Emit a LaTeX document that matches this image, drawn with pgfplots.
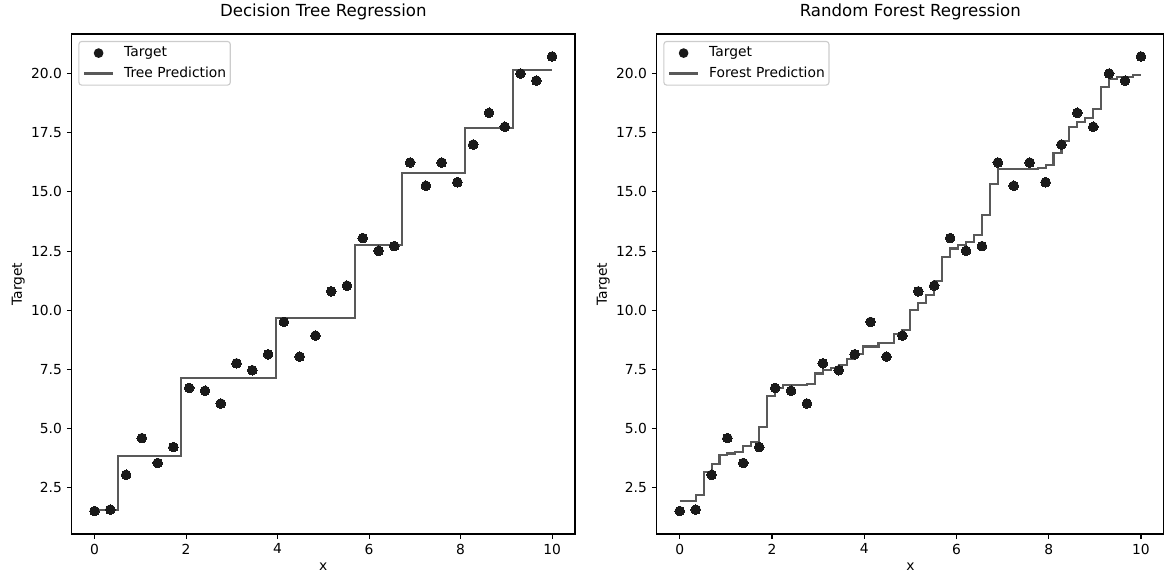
\documentclass[border=0pt]{standalone}
\usepackage{fontspec}
\setmainfont{DejaVu Sans}
\usepackage{pgfplots}
\usepackage{pgfplotstable}
\pgfplotsset{compat=1.18}

\definecolor{pointcol}{HTML}{1A1A1A}
\definecolor{linecol}{HTML}{595959}
\definecolor{framecol}{HTML}{CCCCCC}

% training targets
\pgfplotstableread{
x y
0.000 1.52
0.345 1.58
0.690 3.05
1.034 4.60
1.379 3.55
1.724 4.22
2.069 6.72
2.414 6.60
2.759 6.06
3.103 7.76
3.448 7.47
3.793 8.14
4.138 9.51
4.483 8.04
4.828 8.93
5.172 10.80
5.517 11.04
5.862 13.05
6.207 12.51
6.552 12.71
6.897 16.24
7.241 15.26
7.586 16.24
7.931 15.41
8.276 17.00
8.621 18.34
8.966 17.75
9.310 20.00
9.655 19.70
10.000 20.72
}\targetdata

% single tree: leaf value from each split point on
\pgfplotstableread{
x y
0.000 1.55
0.517 3.86
1.897 7.13
3.966 9.66
5.690 12.76
6.724 15.79
8.103 17.70
9.138 20.14
10.000 20.14
}\treedata

% forest average: value from each split point on
\pgfplotstableread{
x y
0.000 1.94
0.345 2.18
0.517 3.15
0.690 3.51
0.862 3.88
1.034 3.95
1.207 4.02
1.379 4.27
1.552 4.44
1.724 5.06
1.897 6.37
2.069 6.72
2.241 6.84
2.759 6.88
2.931 7.33
3.103 7.47
3.276 7.57
3.448 7.68
3.621 7.95
3.793 8.15
3.966 8.47
4.310 8.60
4.655 8.99
4.828 9.16
5.000 10.00
5.172 10.31
5.345 10.64
5.517 11.24
5.690 12.25
5.862 12.61
6.034 12.75
6.207 12.89
6.379 13.17
6.552 14.02
6.724 15.35
6.897 15.97
7.759 16.01
7.931 16.13
8.103 16.65
8.276 17.16
8.448 17.75
8.621 17.94
8.793 18.14
8.966 18.51
9.138 19.43
9.310 19.75
9.483 19.86
9.828 19.93
10.000 19.93
}\forestdata

\pgfplotsset{
  regr/.style={
    scale only axis,
    height=360bp,
    anchor=south west,
    xmin=-0.5, xmax=10.5,
    ymin=0.55, ymax=21.67,
    xtick={0,2,4,6,8,10},
    ytick={2.5,5,7.5,10,12.5,15,17.5,20},
    yticklabel style={/pgf/number format/.cd, fixed, fixed zerofill, precision=1},
    /pgf/number format/assume math mode=true,
    tick label style={font=\fontsize{10}{12}\selectfont, text=black},
    tick align=outside,
    xtick pos=left, ytick pos=left,
    major tick length=3.5bp,
    tick style={black, line width=0.8bp},
    axis line style={black, line width=0.8bp},
    xlabel={x}, ylabel={Target},
    label style={font=\fontsize{10}{12}\selectfont},
    xlabel style={at={(axis description cs:0.5,0)}, anchor=base, yshift=-26.3bp, inner sep=0pt},
    % the y label is rotated, so its yshift moves it to the left
    ylabel style={at={(axis description cs:0,0.5)}, anchor=center, yshift=38.5bp, inner sep=0pt},
    title style={font=\fontsize{12}{14}\selectfont, at={(0.5,1)}, anchor=base, yshift=6.5bp, inner sep=0pt},
    legend cell align=left,
    legend style={
      at={(0,1)}, anchor=north west, xshift=4.8bp, yshift=-5bp,
      draw=framecol, line width=0.8bp, rounded corners=2bp,
      fill=white, fill opacity=0.8, text opacity=1,
      font=\fontsize{10}{12}\selectfont,
      inner xsep=3bp, inner ysep=3.5bp,
      row sep=5bp, column sep=7.2bp,
      nodes={inner sep=0pt, text height=7.5bp, text depth=2.2bp},
    },
  },
  targetpts/.style={
    only marks, mark=*, mark size=3.5bp,
    mark options={draw=pointcol, fill=pointcol, line width=0pt},
    legend image code/.code={
      \path[draw=none, fill=none] (0bp,0bp) -- (20.9bp,0bp);
      \path[draw=none, fill=pointcol, fill opacity=1] (10.45bp,0bp) circle (3.5bp);
    },
  },
  predline/.style={
    const plot mark left, no marks, color=linecol, line width=1.5bp,
    legend image code/.code={
      \draw[linecol, line width=1.5bp, draw opacity=1] (0bp,0bp) -- (20.9bp,0bp);
    },
  },
}

\begin{document}
\begin{tikzpicture}
\useasboundingbox (0,0) rectangle (838.08bp,411.84bp);

\begin{axis}[regr, at={(51.6bp,27.36bp)}, width=362.4bp,
  title={Decision Tree Regression}]
  \addplot[targetpts] table[x=x, y=y] {\targetdata};
  \addlegendentry{Target}
  \addplot[predline] table[x=x, y=y] {\treedata};
  \addlegendentry{Tree Prediction}
\end{axis}

\begin{axis}[regr, at={(472.8bp,27.36bp)}, width=365.3bp,
  title={Random Forest Regression}]
  \addplot[targetpts] table[x=x, y=y] {\targetdata};
  \addlegendentry{Target}
  \addplot[predline] table[x=x, y=y] {\forestdata};
  \addlegendentry{Forest Prediction}
\end{axis}
\end{tikzpicture}
\end{document}
